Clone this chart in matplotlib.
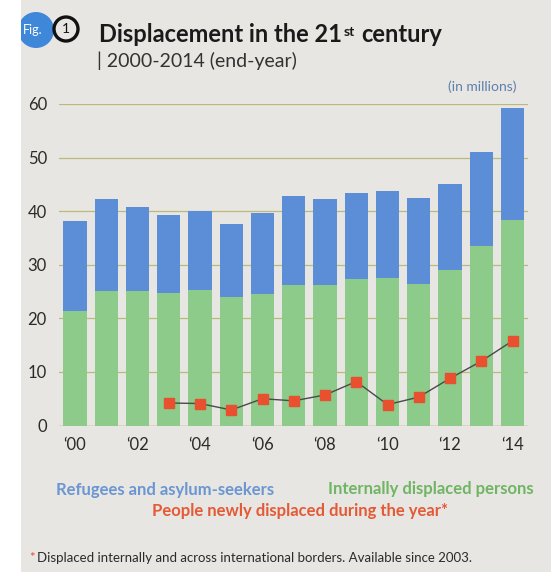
import matplotlib
matplotlib.use('Agg')
import matplotlib.pyplot as plt
from matplotlib.patches import Circle, Rectangle
import numpy as np

# ---------------- data ----------------
years = list(range(2000, 2015))
idps = [21.3, 25.1, 25.1, 24.7, 25.3, 24.0, 24.6, 26.2, 26.2, 27.3, 27.6, 26.5, 29.0, 33.5, 38.4]
refugees = [16.9, 17.1, 15.7, 14.6, 14.8, 13.6, 15.0, 16.7, 16.0, 16.1, 16.2, 16.0, 16.1, 17.6, 20.9]
new_years = list(range(2003, 2015))
new_displaced = [4.2, 4.1, 2.9, 5.0, 4.6, 5.7, 8.2, 3.9, 5.3, 8.8, 12.0, 15.8]
xtick_labels = ['\u201800', '\u201802', '\u201804', '\u201806', '\u201808', '\u201810', '\u201812', '\u201814']
ytick_values = [0, 10, 20, 30, 40, 50, 60]

# ---------------- style ----------------
FONT = ['Lato', 'DejaVu Sans']
plt.rcParams['font.family'] = FONT
PAPER = '#e7e6e2'
BLUE = '#5b8ed6'
GREEN = '#8ccb89'
RED = '#e8502f'
GRID = '#bdb97c'
TXT = '#2b2b2b'

W, H = 551, 572
fig = plt.figure(figsize=(W / 100, H / 100), dpi=100)
fig.patch.set_facecolor('white')

def fx(px):
    return px / W

def fy(py):
    return 1 - py / H

# paper background
fig.add_artist(Rectangle((fx(21), 0), 1 - fx(21), 1, transform=fig.transFigure,
                         facecolor=PAPER, edgecolor='none', zorder=0))

# ---------------- axes ----------------
ax = fig.add_axes([fx(59.4), fy(425.5), fx(468.75), (425.5 - 104) / H])
ax.set_facecolor('none')
x = np.arange(len(years))
ax.bar(x, idps, width=0.74, color=GREEN, zorder=2)
ax.bar(x, refugees, bottom=idps, width=0.74, color=BLUE, zorder=2)
nx = np.array([years.index(y) for y in new_years])
ax.plot(nx, new_displaced, color='#4a4a4a', lw=1.0, zorder=3)
ax.plot(nx, new_displaced, ls='none', marker='s', ms=7, color=RED,
        markeredgecolor=RED, zorder=4)

ax.set_xlim(-0.5, 14.5)
ax.set_ylim(0, 60)
ax.set_yticks(ytick_values)
ax.set_yticklabels([str(v) for v in ytick_values])
ax.set_xticks(x[::2])
ax.set_xticklabels(xtick_labels)
ax.tick_params(axis='both', length=0, labelsize=12, colors=TXT)
ax.tick_params(axis='y', pad=9)
ax.tick_params(axis='x', pad=8)
for s in ax.spines.values():
    s.set_visible(False)
ax.yaxis.grid(True, color=GRID, lw=0.9, zorder=1)
ax.set_axisbelow(True)
ax.axhline(0, color=GRID, lw=1.0, zorder=1)

# ---------------- header ----------------
fig.add_artist(Circle((36 / 100, (H - 30) / 100), 0.18, transform=fig.dpi_scale_trans,
                      facecolor='#3f87d9', edgecolor='none', zorder=2))
fig.add_artist(Rectangle((0, 0), fx(21), 1, transform=fig.transFigure,
                         facecolor='white', edgecolor='none', zorder=3))
fig.text(fx(33), fy(30), 'Fig.', color='white', fontsize=9, ha='center', va='center', zorder=4)
fig.add_artist(Circle((66 / 100, (H - 29) / 100), 0.12, transform=fig.dpi_scale_trans,
                      facecolor=PAPER, edgecolor='#111111', lw=2.4, zorder=3))
fig.text(fx(66), fy(29), '1', color='#111111', fontsize=10, ha='center', va='center', zorder=4)

t1 = fig.text(fx(99), fy(42), 'Displacement in the 21', fontsize=17, fontweight='bold',
              color='#1a1a1a', va='baseline', ha='left')
t2 = plt.annotate('st', xy=(1, 1), xycoords=t1, xytext=(1, -2), textcoords='offset points',
                  fontsize=10, fontweight='bold', color='#1a1a1a', ha='left', va='top',
                  annotation_clip=False)
t3 = plt.annotate('century', xy=(1, 0), xycoords=(t2, t1), xytext=(5, 0),
                  textcoords='offset points', fontsize=17, fontweight='bold',
                  color='#1a1a1a', ha='left', va='bottom', annotation_clip=False)
fig.text(fx(97), fy(67), '| 2000-2014 (end-year)', fontsize=14, color='#333333',
         va='baseline', ha='left')
fig.text(fx(516), fy(91), '(in millions)', fontsize=10, color='#5d7fae',
         va='baseline', ha='right')

# ---------------- legend texts ----------------
fig.text(fx(165.5), fy(490), 'Refugees and asylum-seekers', fontsize=12, fontweight='bold',
         color='#6b96d2', ha='center', va='center')
fig.text(fx(431), fy(489), 'Internally displaced persons', fontsize=12, fontweight='bold',
         color='#6fb563', ha='center', va='center')
fig.text(fx(300.5), fy(511), 'People newly displaced during the year*', fontsize=12,
         fontweight='bold', color='#e45a36', ha='center', va='center')

f1 = fig.text(fx(29), fy(562), '*', fontsize=9.5, color=RED, ha='left', va='baseline')
plt.annotate('Displaced internally and across international borders. Available since 2003.',
             xy=(1, 0), xycoords=f1, xytext=(2, 0), textcoords='offset points',
             fontsize=9.5, color='#2b2b2b', ha='left', va='bottom', annotation_clip=False)

fig.savefig('out.png', dpi=100, facecolor=fig.get_facecolor())
